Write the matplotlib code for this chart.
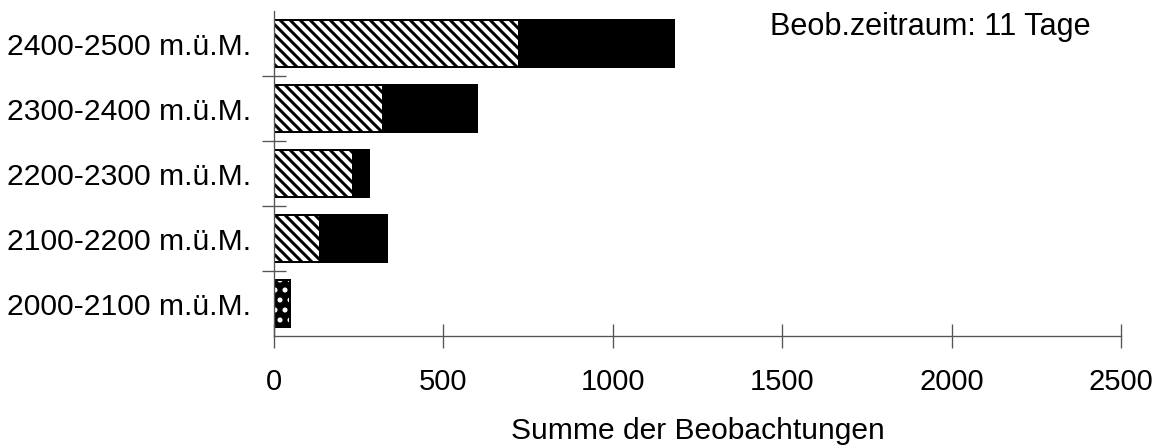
import matplotlib
matplotlib.use('Agg')
import matplotlib.pyplot as plt
import numpy as np

plt.rcParams['font.family'] = ['Liberation Sans', 'DejaVu Sans']
plt.rcParams['hatch.linewidth'] = 1.8

# data, bottom to top
categories = ['2000-2100 m.ü.M.', '2100-2200 m.ü.M.', '2200-2300 m.ü.M.',
              '2300-2400 m.ü.M.', '2400-2500 m.ü.M.']
hatched = [0, 136, 232, 322, 723]
solid = [0, 197, 48, 277, 458]
dotted = [47, 0, 0, 0, 0]
x_ticks = [0, 500, 1000, 1500, 2000, 2500]

DPI = 120
fig = plt.figure(figsize=(1163 / DPI, 448 / DPI), dpi=DPI)
ax = fig.add_axes([0.2356, 0.25, 0.9639 - 0.2356, 0.9754 - 0.25])

y = np.arange(len(categories))
h = 0.71
hatched = np.array(hatched)
solid = np.array(solid)
dotted = np.array(dotted)

ax.barh(y, hatched, height=h, color='white', edgecolor='black',
        hatch='\\\\\\\\', linewidth=1.2)
ax.barh(y, solid, left=hatched, height=h, color='black', edgecolor='black',
        linewidth=1.2)
# dotted bar: white dots on black, outline drawn separately
ax.barh(y, dotted, height=h, color='black', edgecolor='white',
        hatch='..', linewidth=0)
ax.barh(y, dotted, height=h, fill=False, edgecolor='black', linewidth=1.2)

ax.set_xlim(0, 2500)
ax.set_ylim(-0.5, len(categories) - 0.5)
ax.set_xticks(x_ticks)
ax.set_yticks(y)
ax.set_yticklabels(categories, fontsize=18.1)
ax.set_yticks(y[:-1] + 0.5, minor=True)
ax.tick_params(axis='y', which='major', length=0, pad=14)
ax.tick_params(axis='y', which='minor', direction='inout', length=14,
               width=0.8, color='#555555')
ax.tick_params(axis='x', direction='inout', length=14, width=0.8,
               color='#555555', labelsize=17.5, pad=12)

for s in ['top', 'right']:
    ax.spines[s].set_visible(False)
for s in ['left', 'bottom']:
    ax.spines[s].set_linewidth(0.8)
    ax.spines[s].set_color('#555555')

ax.set_xlabel('Summe der Beobachtungen', fontsize=18, labelpad=13)

fig.text(770 / 1163, 1 - 35 / 448, 'Beob.zeitraum: 11 Tage', fontsize=18.4,
         va='baseline', ha='left')

fig.savefig('out.png', dpi=DPI)
